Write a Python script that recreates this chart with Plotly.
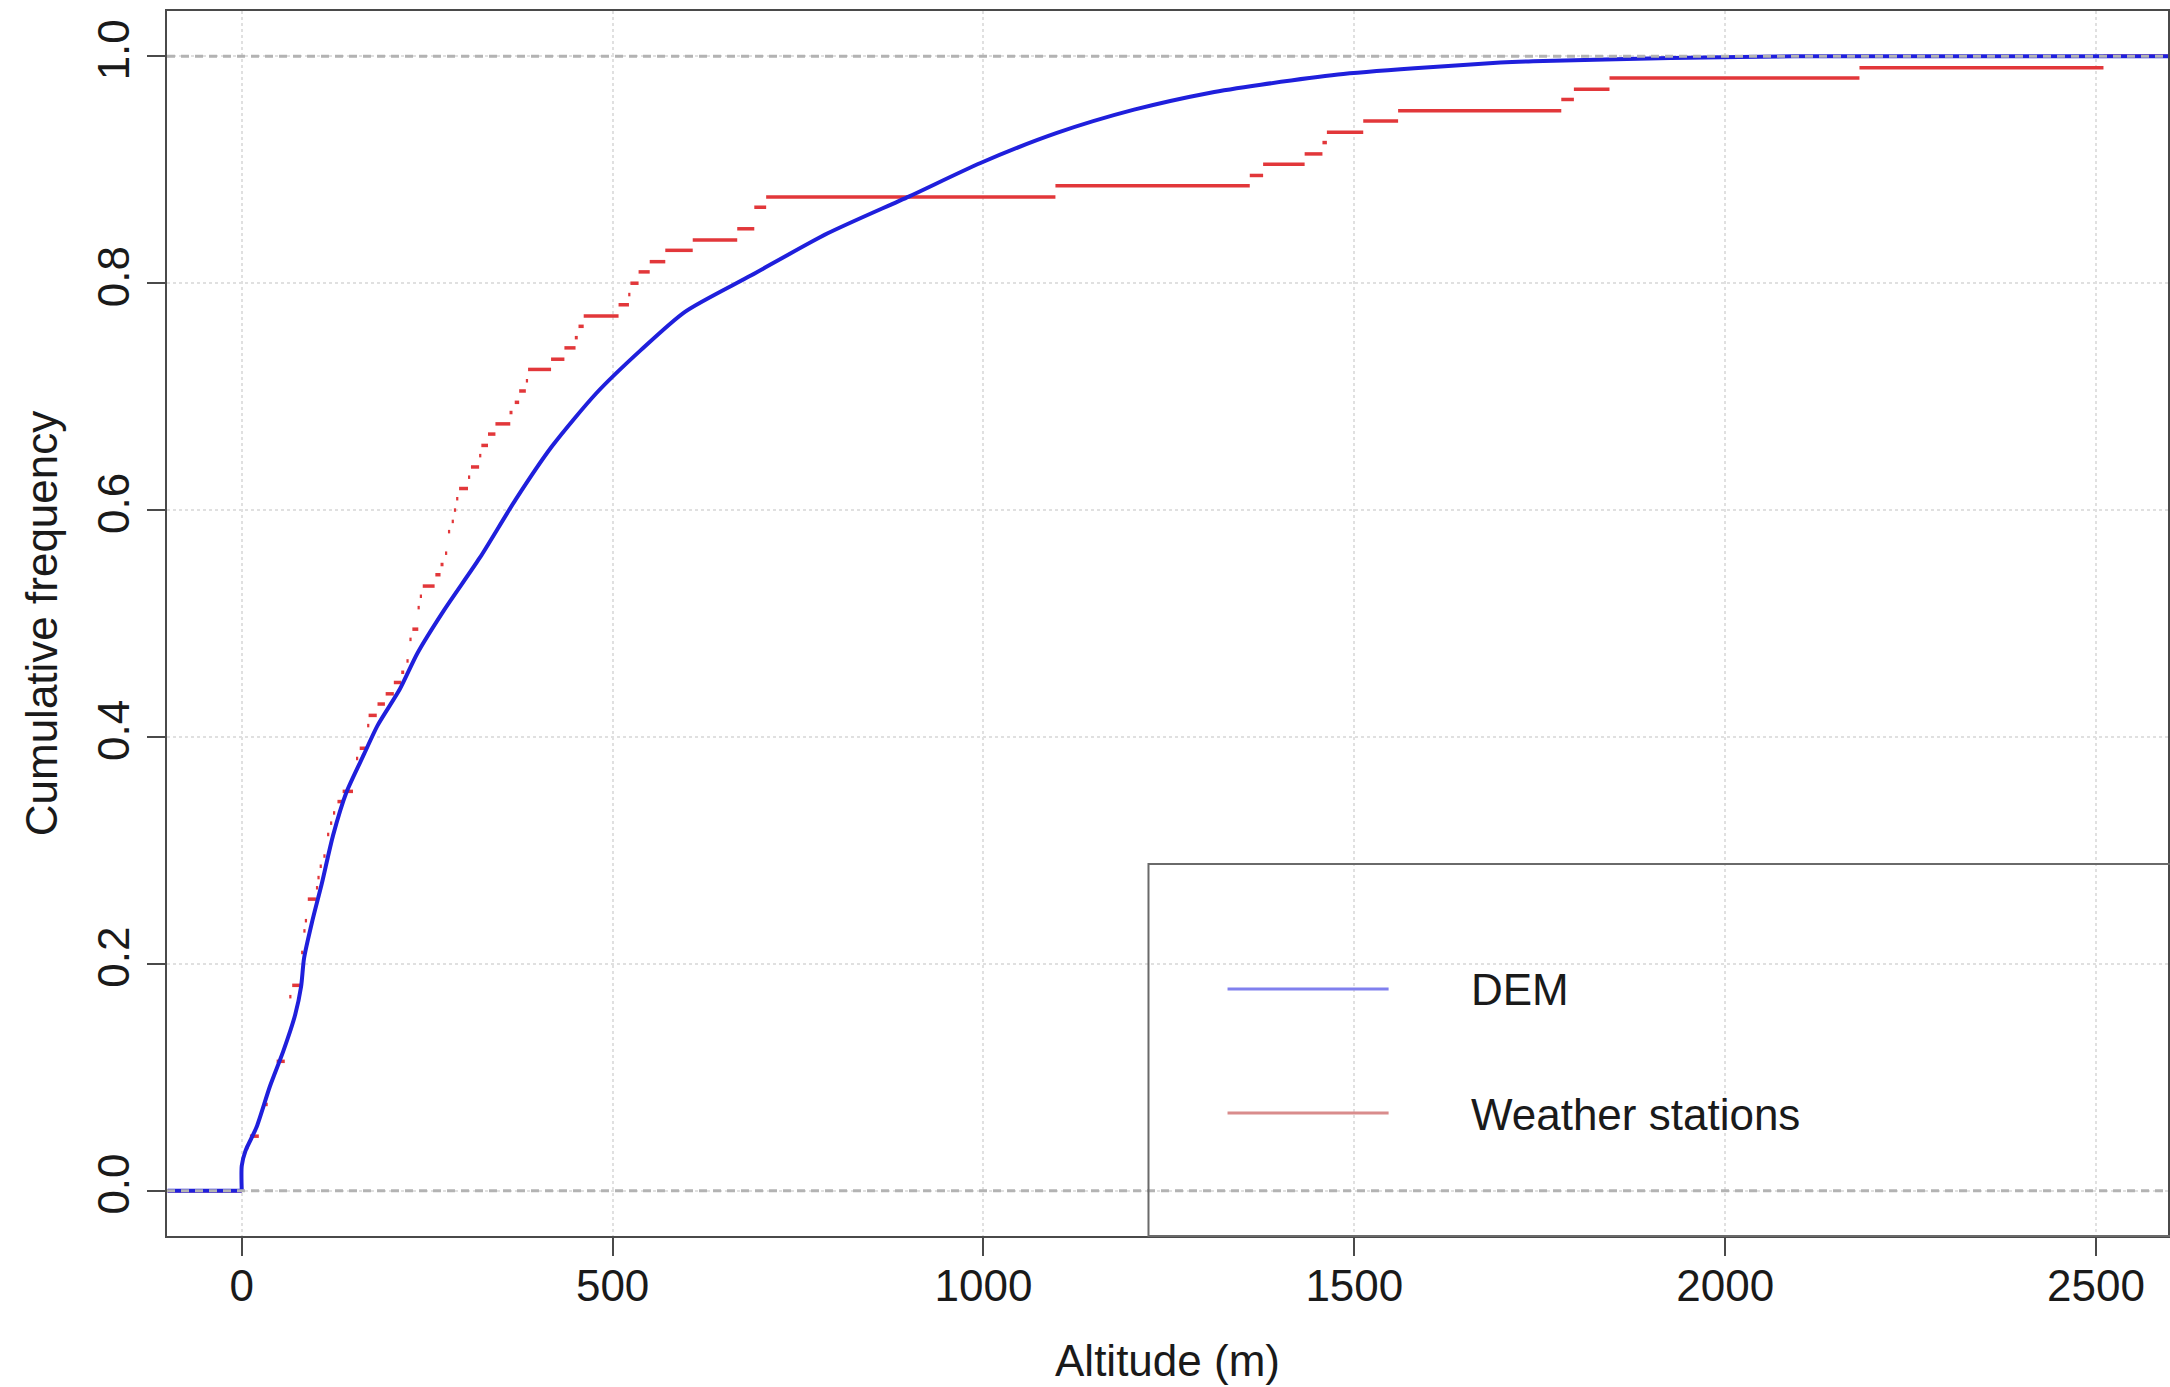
import plotly.graph_objects as go

# ---------------- data ----------------
# DEM empirical cumulative distribution (altitude in m, cumulative frequency)
dem_alt = [-100, 0, 0, 5, 20, 38, 56, 72, 80, 84, 95, 108, 123, 141, 165, 183,
           213, 237, 273, 321, 369, 418, 478, 538, 598, 687, 790, 900, 996,
           1099, 1203, 1306, 1374, 1478, 1581, 1697, 1741, 1926, 2092, 2600]
dem_cum = [0.0, 0.0, 0.022, 0.035, 0.056, 0.092, 0.123, 0.155, 0.18, 0.205,
           0.2375, 0.271, 0.313, 0.351, 0.385, 0.41, 0.442, 0.474, 0.512,
           0.558, 0.609, 0.656, 0.703, 0.741, 0.775, 0.807, 0.844, 0.8766,
           0.906, 0.9325, 0.953, 0.968, 0.975, 0.984, 0.9895, 0.9945, 0.9957,
           0.9986, 1.0, 1.0]

# Weather stations ECDF: horizontal steps (start altitude, end altitude, level)
ws_start = [-100, 5, 11, 29, 44, 47, 64, 68, 80, 83, 85, 89, 100, 102, 105, 110,
            115, 119, 123, 129, 136, 154, 159, 169, 171, 183, 194, 205, 215,
            222, 226, 230, 237, 240, 244, 261, 268, 274, 278, 283, 286, 289,
            293, 305, 309, 320, 323, 332, 342, 361, 368, 374, 383, 386, 417,
            435, 449, 454, 461, 508, 521, 524, 535, 550, 571, 608, 668, 691,
            707, 1097, 1359, 1377, 1433, 1457, 1463, 1512, 1559, 1779, 1796,
            1844, 2181, 2510]
ws_end = [0, 9, 23, 35, 47, 58, 67, 79, 83, 86, 88, 100, 103, 105, 108, 113,
          118, 122, 126, 136, 150, 157, 169, 172, 182, 193, 205, 215, 219,
          225, 229, 238, 240, 243, 260, 268, 272, 277, 281, 286, 289, 292,
          305, 308, 320, 323, 332, 342, 362, 365, 374, 383, 386, 417, 435,
          450, 453, 461, 508, 522, 524, 535, 550, 571, 608, 668, 691, 707,
          1097, 1359, 1377, 1433, 1457, 1463, 1512, 1559, 1779, 1796, 1844,
          2181, 2510, 2600]
ws_cum = [0.0, 0.038, 0.048, 0.076, 0.105, 0.114, 0.171, 0.181, 0.210, 0.229,
          0.238, 0.257, 0.267, 0.276, 0.286, 0.295, 0.314, 0.324, 0.333, 0.343,
          0.352, 0.381, 0.390, 0.410, 0.419, 0.429, 0.438, 0.448, 0.457, 0.467,
          0.486, 0.495, 0.514, 0.524, 0.533, 0.543, 0.552, 0.562, 0.581, 0.590,
          0.600, 0.610, 0.619, 0.629, 0.638, 0.648, 0.657, 0.667, 0.676, 0.686,
          0.695, 0.705, 0.714, 0.724, 0.733, 0.743, 0.752, 0.762, 0.771, 0.781,
          0.790, 0.800, 0.810, 0.819, 0.829, 0.838, 0.848, 0.867, 0.876, 0.886,
          0.895, 0.905, 0.914, 0.924, 0.933, 0.943, 0.952, 0.962, 0.971, 0.981,
          0.990, 1.0]

x_ticks = [0, 500, 1000, 1500, 2000, 2500]
y_ticks = [0.0, 0.2, 0.4, 0.6, 0.8, 1.0]
y_tick_text = ["0.0", "0.2", "0.4", "0.6", "0.8", "1.0"]
ref_levels = [0.0, 1.0]
series_names = ["DEM", "Weather stations"]

# ---------------- styling ----------------
BLUE = "#1f1fdc"
RED = "#e2373a"
LEG_BLUE = "#8080ee"
LEG_RED = "#d98c8c"
AXIS = "#4a4a4a"
GRID = "#e0e0e0"
FONT = "Liberation Sans, Arial, Helvetica, sans-serif"
FS = 44

red_x, red_y = [], []
for a, b, c in zip(ws_start, ws_end, ws_cum):
    red_x += [a, b, None]
    red_y += [c, c, None]

fig = go.Figure()
fig.add_trace(go.Scatter(x=red_x, y=red_y, mode="lines", name=series_names[1],
                         line=dict(color=RED, width=3.5), connectgaps=False,
                         showlegend=False, hoverinfo="skip"))
# flat part of the DEM ECDF below the lowest altitude (straight)
fig.add_trace(go.Scatter(x=dem_alt[:2], y=dem_cum[:2], mode="lines",
                         name=series_names[0], line=dict(color=BLUE, width=4),
                         showlegend=False, hoverinfo="skip"))
# rising part of the DEM ECDF (smoothed)
fig.add_trace(go.Scatter(x=dem_alt[1:], y=dem_cum[1:], mode="lines",
                         name=series_names[0],
                         line=dict(color=BLUE, width=4, shape="spline",
                                   smoothing=0.7),
                         showlegend=False))

for lv in ref_levels:
    fig.add_hline(y=lv, line=dict(color="#b3b3b3", width=3, dash="8px,6px"),
                  layer="above")

fig.update_layout(
    width=2170, height=1387,
    margin=dict(l=167, r=2, t=11, b=151, autoexpand=False),
    paper_bgcolor="white", plot_bgcolor="white",
    font=dict(family=FONT, size=FS, color="#1a1a1a"),
    showlegend=False,
)
fig.update_xaxes(
    range=[-100.8, 2597], tickvals=x_ticks, ticks="outside", ticklen=18,
    tickwidth=2, tickcolor=AXIS, showline=True, linecolor=AXIS, linewidth=2,
    mirror=True, showgrid=True, gridcolor=GRID, griddash="dot",
    gridwidth=2, zeroline=False, automargin=False, ticklabelstandoff=-8,
    tickfont=dict(size=FS, family=FONT, color="#1a1a1a"),
    title=dict(text="Altitude (m)", standoff=36,
               font=dict(size=FS, family=FONT, color="#1a1a1a")),
)
fig.update_yaxes(
    range=[-0.04, 1.04], tickvals=y_ticks, ticktext=y_tick_text, tickangle=-90,
    ticks="outside", ticklen=18, tickwidth=2, tickcolor=AXIS, showline=True,
    linecolor=AXIS, linewidth=2, mirror=True, showgrid=True,
    gridcolor=GRID, griddash="dot", gridwidth=2, zeroline=False,
    automargin=False,
    tickfont=dict(size=FS, family=FONT, color="#1a1a1a"),
    title=dict(text="Cumulative frequency", standoff=18,
               font=dict(size=FS, family=FONT, color="#1a1a1a")),
)

# legend box (drawn manually to mimic the R legend)
fig.add_shape(type="rect", xref="paper", yref="paper", x0=0.4905, x1=1.02,
              y0=0.0, y1=0.3037, line=dict(color="#6a6a6a", width=2),
              fillcolor="rgba(0,0,0,0)", layer="above")
fig.add_shape(type="line", xref="paper", yref="paper", x0=0.530, x1=0.6105,
              y0=0.2016, y1=0.2016, line=dict(color=LEG_BLUE, width=3))
fig.add_shape(type="line", xref="paper", yref="paper", x0=0.530, x1=0.6105,
              y0=0.1004, y1=0.1004, line=dict(color=LEG_RED, width=3))
fig.add_annotation(xref="paper", yref="paper", x=0.6505, y=0.2016,
                   xanchor="left", yanchor="middle", text=series_names[0],
                   showarrow=False, font=dict(size=FS, family=FONT, color="#1a1a1a"))
fig.add_annotation(xref="paper", yref="paper", x=0.6505, y=0.0988,
                   xanchor="left", yanchor="middle", text=series_names[1],
                   showarrow=False, font=dict(size=FS, family=FONT, color="#1a1a1a"))

fig.write_html("out.html")
